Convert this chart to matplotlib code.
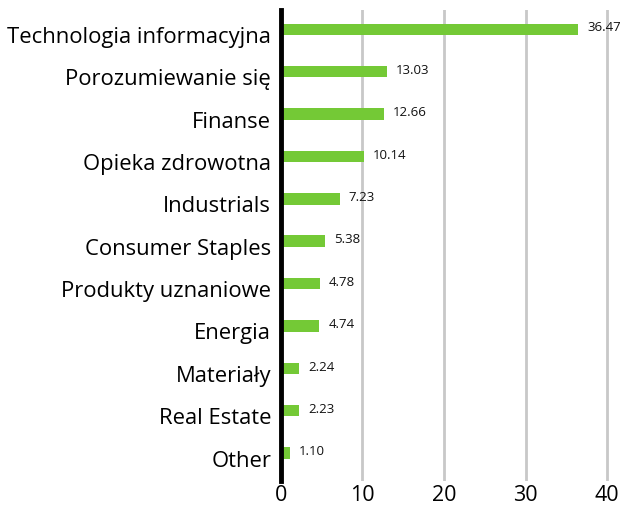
import numpy as np
import matplotlib.pyplot as plt
import matplotlib.transforms as mtransforms

categories = ["Technologia informacyjna", "Porozumiewanie się", "Finanse",
              "Opieka zdrowotna", "Industrials", "Consumer Staples",
              "Produkty uznaniowe", "Energia", "Materiały", "Real Estate", "Other"]
weights = [36.47, 13.03, 12.66, 10.14, 7.23, 5.38, 4.78, 4.74, 2.24, 2.23, 1.10]
xticks = [0, 10, 20, 30, 40]

plt.rcParams['font.family'] = ['Open Sans', 'DejaVu Sans']

fig = plt.figure(figsize=(6.24, 5.08), dpi=100)
ax = fig.add_axes([0.450, 0.053, 0.527, 0.927])

y = np.arange(len(categories))
ax.barh(y, weights, height=0.27, color='#74c936', zorder=3)
for yi, w in zip(y, weights):
    ax.text(w + 1.1, yi - 0.03, f"{w:.2f}", fontsize=9.5, va='center', ha='left', color='#111111', zorder=4)

ax.set_xlim(0, 40.3)
ax.set_ylim(10.66, -0.45)
ax.set_yticks(y)
ax.set_yticklabels(categories, fontsize=15.8)
ax.set_xticks(xticks)
ax.set_xticklabels([str(t) for t in xticks], fontsize=15.5)
ax.tick_params(axis='both', length=0)
ax.tick_params(axis='y', pad=7)
ax.tick_params(axis='x', pad=3)

# labels in the reference sit a little below the bar centre
shift = mtransforms.ScaledTranslation(0, -4 / 72, fig.dpi_scale_trans)
for lab in ax.get_yticklabels():
    lab.set_transform(lab.get_transform() + shift)

ax.grid(axis='x', color='#c8c8c8', linewidth=2, zorder=0)
for s in ['top', 'right', 'bottom']:
    ax.spines[s].set_visible(False)
ax.spines['left'].set_linewidth(3.5)
ax.spines['left'].set_color('black')
ax.spines['left'].set_zorder(5)

fig.savefig('out.png', dpi=100)
